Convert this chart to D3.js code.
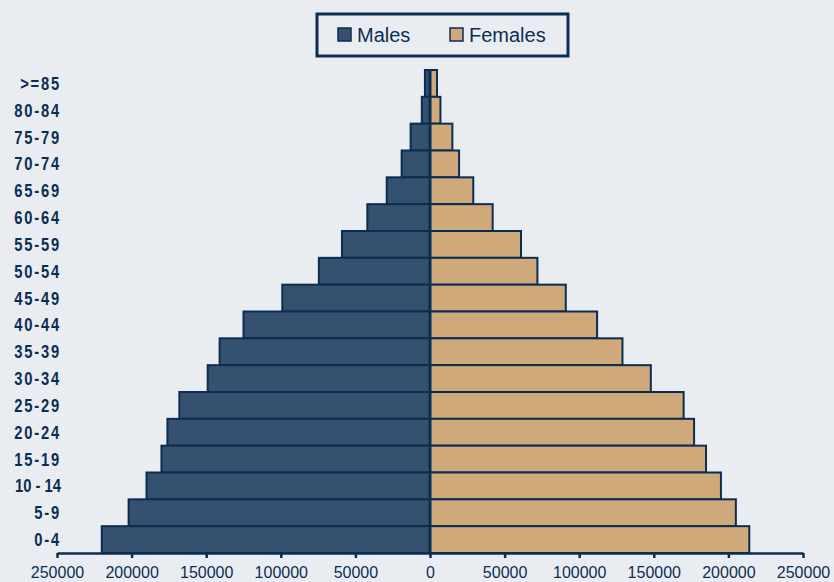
<!DOCTYPE html>
<html>
<head>
<meta charset="utf-8">
<script src="https://cdn.jsdelivr.net/npm/d3@7"></script>
<style>
  html, body { margin: 0; padding: 0; background: #e9edf1; }
  svg { display: block; }
</style>
</head>
<body>
<svg id="chart" width="834" height="582"></svg>
<script>
// age groups, top to bottom
const ageGroups = ['>=85','80-84','75-79','70-74','65-69','60-64','55-59','50-54','45-49',
  '40-44','35-39','30-34','25-29','20-24','15-19','10 - 14','5-9','0-4'];
const males = [3400, 5500, 13000, 19000, 29000, 42000, 59000, 74500, 99000,
  125000, 141000, 149000, 168000, 176000, 180000, 190000, 202000, 220000];
const females = [4700, 7000, 15000, 19500, 29000, 42000, 61000, 72000, 91000,
  112000, 129000, 148000, 170000, 177000, 185000, 195000, 205000, 214000];
const xTicks = [-250000, -200000, -150000, -100000, -50000, 0, 50000, 100000, 150000, 200000, 250000];

const navy = '#0c2d52';
const maleFill = '#34526f';
const femaleFill = '#cfa97a';

const svg = d3.select('#chart');

const x = d3.scaleLinear().domain([-250000, 250000]).range([57, 803]);
const y = d3.scaleBand().domain(ageGroups).range([70, 553]).padding(0);

const rows = ageGroups.map((g, i) => ({ group: g, m: males[i], f: females[i] }));

// male bars
svg.append('g').selectAll('rect').data(rows).join('rect')
  .attr('x', d => x(-d.m))
  .attr('y', d => y(d.group))
  .attr('width', d => x(0) - x(-d.m))
  .attr('height', y.bandwidth())
  .attr('fill', maleFill)
  .attr('stroke', navy)
  .attr('stroke-width', 2);

// female bars
svg.append('g').selectAll('rect').data(rows).join('rect')
  .attr('x', x(0))
  .attr('y', d => y(d.group))
  .attr('width', d => x(d.f) - x(0))
  .attr('height', y.bandwidth())
  .attr('fill', femaleFill)
  .attr('stroke', navy)
  .attr('stroke-width', 2);

// center line
svg.append('line')
  .attr('x1', x(0)).attr('x2', x(0))
  .attr('y1', y.range()[0]).attr('y2', y.range()[1])
  .attr('stroke', navy).attr('stroke-width', 3);

// x axis
const xAxis = d3.axisBottom(x).tickValues(xTicks).tickFormat(d => Math.abs(d)).tickSize(5).tickSizeOuter(0);
const gx = svg.append('g').attr('transform', `translate(0,553)`).call(xAxis);
gx.select('.domain').attr('stroke', navy).attr('stroke-width', 2.5);
gx.selectAll('.tick line').attr('stroke', navy).attr('stroke-width', 2.5);
gx.selectAll('.tick text')
  .attr('fill', navy)
  .attr('y', 14)
  .style('font-family', '"Liberation Sans", Arial, sans-serif')
  .style('font-size', '16px');

// y labels (condensed bold)
svg.append('g').selectAll('text').data(ageGroups).join('text')
  .attr('transform', d => `translate(61,${y(d) + y.bandwidth() / 2}) scale(0.82,1)`)
  .attr('dy', '0.36em')
  .attr('text-anchor', 'end')
  .attr('fill', navy)
  .style('font-family', '"Liberation Sans", Arial, sans-serif')
  .style('font-weight', 'bold')
  .style('font-size', '18px')
  .style('letter-spacing', d => d.includes(' ') ? '0px' : '2.2px')
  .text(d => d);

// legend
const lg = svg.append('g');
lg.append('rect')
  .attr('x', 317).attr('y', 14).attr('width', 251).attr('height', 42)
  .attr('fill', 'none').attr('stroke', navy).attr('stroke-width', 3);
const legendItems = [
  { label: 'Males', color: maleFill, x: 338 },
  { label: 'Females', color: femaleFill, x: 450 }
];
legendItems.forEach(it => {
  lg.append('rect')
    .attr('x', it.x).attr('y', 28).attr('width', 13).attr('height', 13)
    .attr('fill', it.color).attr('stroke', navy).attr('stroke-width', 1.5);
  lg.append('text')
    .attr('x', it.x + 19).attr('y', 42)
    .attr('fill', navy)
    .style('font-family', '"Liberation Sans", Arial, sans-serif')
    .style('font-size', '20px')
    .text(it.label);
});
</script>
</body>
</html>
